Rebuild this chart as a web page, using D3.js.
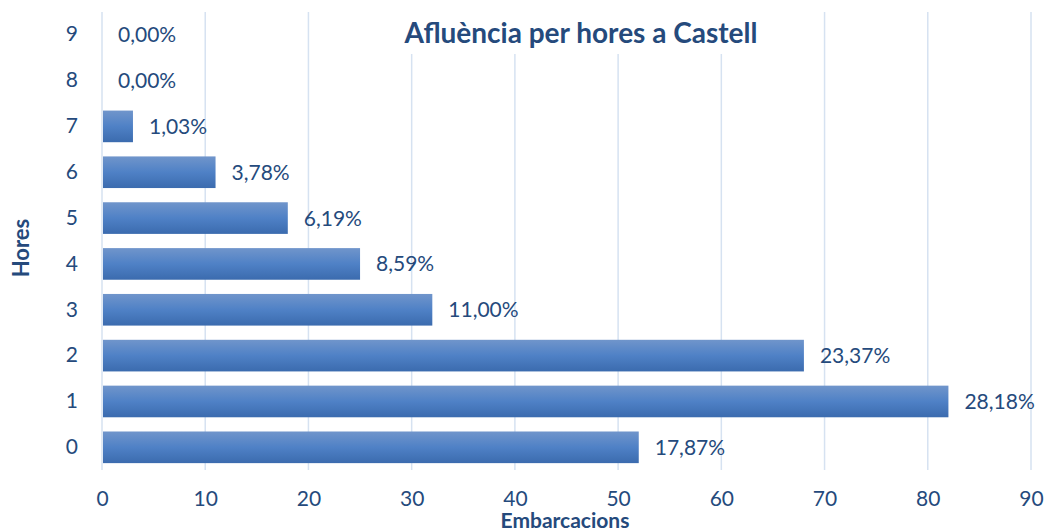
<!DOCTYPE html>
<html>
<head>
<meta charset="utf-8">
<script src="https://cdn.jsdelivr.net/npm/d3@7"></script>
<style>
  body { margin: 0; background: #fff; }
  text { font-family: Lato, "Open Sans", sans-serif; fill: #254a7c; }
</style>
</head>
<body>
<div id="chart"></div>
<script>
// Dades
const hores = ["0", "1", "2", "3", "4", "5", "6", "7", "8", "9"];
const embarcacions = [52, 82, 68, 32, 25, 18, 11, 3, 0, 0];
const percentatges = ["17,87%", "28,18%", "23,37%", "11,00%", "8,59%", "6,19%", "3,78%", "1,03%", "0,00%", "0,00%"];
const xTicks = [0, 10, 20, 30, 40, 50, 60, 70, 80, 90];

const W = 1047, H = 532;
const margin = { top: 12, right: 16, bottom: 62, left: 102 };
const width = W - margin.left - margin.right;
const height = H - margin.top - margin.bottom;

const svg = d3.select("#chart").append("svg")
  .attr("width", W)
  .attr("height", H);

const defs = svg.append("defs");
const grad = defs.append("linearGradient")
  .attr("id", "barGrad")
  .attr("x1", 0).attr("y1", 0).attr("x2", 0).attr("y2", 1);
grad.append("stop").attr("offset", "0%").attr("stop-color", "#7095cb");
grad.append("stop").attr("offset", "50%").attr("stop-color", "#4f81c6");
grad.append("stop").attr("offset", "100%").attr("stop-color", "#3b6bae");

const g = svg.append("g")
  .attr("transform", "translate(" + margin.left + "," + margin.top + ")");

const x = d3.scaleLinear().domain([0, 90]).range([0, width]);
const y = d3.scaleBand().domain(hores.slice().reverse()).range([0, height])
  .paddingInner(0.31).paddingOuter(0.15);

// Gridlines
g.selectAll(".grid")
  .data(xTicks)
  .enter().append("line")
  .attr("x1", d => x(d)).attr("x2", d => x(d))
  .attr("y1", 0).attr("y2", height)
  .attr("stroke", "#d6e2f1")
  .attr("stroke-width", 1.5);

// Bars
g.selectAll(".bar")
  .data(hores)
  .enter().append("rect")
  .attr("x", x(0) + 1)
  .attr("y", d => y(d))
  .attr("width", (d, i) => Math.max(0, x(embarcacions[i]) - x(0) - 1))
  .attr("height", y.bandwidth())
  .attr("fill", "url(#barGrad)");

// Data labels
g.selectAll(".label")
  .data(hores)
  .enter().append("text")
  .attr("x", (d, i) => x(embarcacions[i]) + 16)
  .attr("y", d => y(d) + y.bandwidth() / 2)
  .attr("dy", "0.36em")
  .style("font-size", "21px")
  .text((d, i) => percentatges[i]);

// X axis
const xAxis = g.append("g")
  .attr("transform", "translate(0," + height + ")")
  .call(d3.axisBottom(x).tickValues(xTicks).tickSize(0).tickPadding(21));
xAxis.select(".domain").remove();
xAxis.selectAll("text").style("font-size", "21px").attr("fill", "#254a7c");

// Y axis
const yAxis = g.append("g")
  .call(d3.axisLeft(y).tickSize(0).tickPadding(24));
yAxis.select(".domain").remove();
yAxis.selectAll("text").style("font-size", "21px").attr("fill", "#254a7c");

// Title with white box
svg.append("rect")
  .attr("x", 393).attr("y", 0)
  .attr("width", 374).attr("height", 54)
  .attr("fill", "#fff");
svg.append("text")
  .attr("x", 581).attr("y", 43)
  .attr("text-anchor", "middle")
  .style("font-size", "28px")
  .style("font-weight", "bold")
  .text("Afluència per hores a Castell");

// Axis titles
svg.append("text")
  .attr("x", 565).attr("y", 528)
  .attr("text-anchor", "middle")
  .style("font-size", "21px")
  .style("font-weight", "bold")
  .text("Embarcacions");

svg.append("text")
  .attr("transform", "translate(29,248) rotate(-90)")
  .attr("text-anchor", "middle")
  .style("font-size", "22px")
  .style("font-weight", "bold")
  .text("Hores");
</script>
</body>
</html>
